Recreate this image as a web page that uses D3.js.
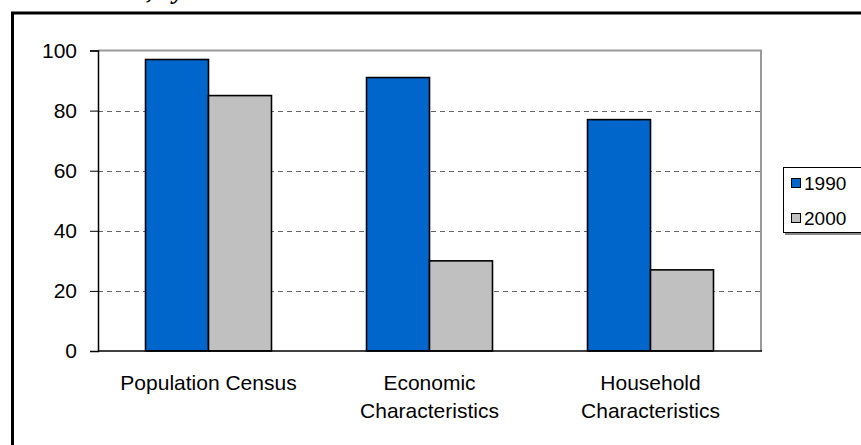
<!DOCTYPE html>
<html>
<head>
<meta charset="utf-8">
<script src="https://cdn.jsdelivr.net/npm/d3@7"></script>
<style>
  html, body { margin: 0; padding: 0; background: #fff; }
  svg { display: block; }
</style>
</head>
<body>
<svg id="chart" width="861" height="445"></svg>
<script>
// Census topic coverage, 1990 vs 2000
const categories = [["Population Census"], ["Economic", "Characteristics"], ["Household", "Characteristics"]];
const seriesNames = ["1990", "2000"];
const values1990 = [97, 91, 77];
const values2000 = [85, 30, 27];
const yTicks = [0, 20, 40, 60, 80, 100];
const colors = ["#0066CC", "#C0C0C0"];

const svg = d3.select("#chart");
const plot = { left: 98, right: 761, top: 50.5, bottom: 351 };
const sans = "Liberation Sans, Arial, sans-serif";

// Outer frame (runs past the right and bottom edges)
svg.append("rect")
  .attr("x", 12.5).attr("y", 13)
  .attr("width", 900).attr("height", 500)
  .attr("fill", "none").attr("stroke", "#000").attr("stroke-width", 3);

// Title line above the frame
const titleFont = sel => sel
  .attr("font-family", "Liberation Serif")
  .attr("font-weight", "bold").attr("font-style", "italic")
  .attr("font-size", 26);
svg.append("text").attr("x", 147).attr("y", -1).attr("text-anchor", "end")
  .call(titleFont).text("Census Items Covered");
svg.append("text").attr("x", 147).attr("y", -1)
  .call(titleFont).text(", by Year");

const x0 = d3.scaleBand()
  .domain(d3.range(categories.length))
  .range([plot.left, plot.right])
  .paddingInner(0.43).paddingOuter(0.215);
const x1 = d3.scaleBand().domain(seriesNames).range([0, x0.bandwidth()]);
const y = d3.scaleLinear().domain([0, 100]).range([plot.bottom, plot.top]);

// Dashed gridlines
svg.append("g").selectAll("line")
  .data(yTicks.filter(t => t > 0 && t < 100))
  .join("line")
  .attr("x1", plot.left).attr("x2", plot.right)
  .attr("y1", d => Math.round(y(d)) + 0.5).attr("y2", d => Math.round(y(d)) + 0.5)
  .attr("stroke", "#666").attr("stroke-width", 1.2)
  .attr("stroke-dasharray", "5,4");

// Plot frame: top and right edges in grey
svg.append("path")
  .attr("d", `M${plot.left},${plot.top}H${plot.right}V${plot.bottom}`)
  .attr("fill", "none").attr("stroke", "#999").attr("stroke-width", 2);

// Bars
const rows = categories.map((c, i) => ({ i, vals: [values1990[i], values2000[i]] }));
const groups = svg.append("g").selectAll("g")
  .data(rows).join("g")
  .attr("transform", d => `translate(${x0(d.i)},0)`);
groups.selectAll("rect")
  .data(d => d.vals.map((v, k) => ({ k, v })))
  .join("rect")
  .attr("x", d => x1(seriesNames[d.k]))
  .attr("y", d => y(d.v))
  .attr("width", x1.bandwidth())
  .attr("height", d => y(0) - y(d.v))
  .attr("fill", d => colors[d.k])
  .attr("stroke", "#000").attr("stroke-width", 1.6);

// Y axis
const yAxis = d3.axisLeft(y).tickValues(yTicks).tickSize(8).tickPadding(13);
const gy = svg.append("g").attr("transform", `translate(${plot.left},0)`).call(yAxis);
gy.select(".domain").attr("stroke", "#000").attr("stroke-width", 1.5);
gy.selectAll(".tick line").attr("stroke", "#000");
gy.selectAll("text")
  .attr("font-family", sans)
  .attr("font-size", 21).attr("fill", "#000");

// X axis baseline
svg.append("line")
  .attr("x1", plot.left).attr("x2", plot.right + 1)
  .attr("y1", plot.bottom).attr("y2", plot.bottom)
  .attr("stroke", "#000").attr("stroke-width", 1.5);

// Category labels
const lab = svg.append("g").selectAll("text")
  .data(categories.map((c, i) => ({ c, i })))
  .join("text")
  .attr("x", d => x0(d.i) + x0.bandwidth() / 2)
  .attr("y", 390)
  .attr("text-anchor", "middle")
  .attr("font-family", sans)
  .attr("font-size", 21).attr("fill", "#000");
lab.selectAll("tspan")
  .data(d => d.c.map((line, j) => ({ line, j, cx: x0(d.i) + x0.bandwidth() / 2 })))
  .join("tspan")
  .attr("x", d => d.cx)
  .attr("dy", d => d.j === 0 ? 0 : 28)
  .text(d => d.line);

// Legend
const leg = svg.append("g").attr("transform", "translate(783,167)");
leg.append("rect").attr("x", 2).attr("y", 2).attr("width", 100).attr("height", 66).attr("fill", "#888");
leg.append("rect").attr("x", 0.5).attr("y", 0.5).attr("width", 100).attr("height", 65)
  .attr("fill", "#fff").attr("stroke", "#000").attr("stroke-width", 1);
seriesNames.forEach((s, k) => {
  const cy = 16 + k * 35;
  leg.append("rect").attr("x", 8.5).attr("y", cy - 4.5).attr("width", 9).attr("height", 9)
    .attr("fill", colors[k]).attr("stroke", "#000").attr("stroke-width", 1);
  leg.append("text").attr("x", 21).attr("y", cy + 7)
    .attr("font-family", sans)
    .attr("font-size", 19).attr("fill", "#000")
    .text(s);
});
</script>
</body>
</html>
